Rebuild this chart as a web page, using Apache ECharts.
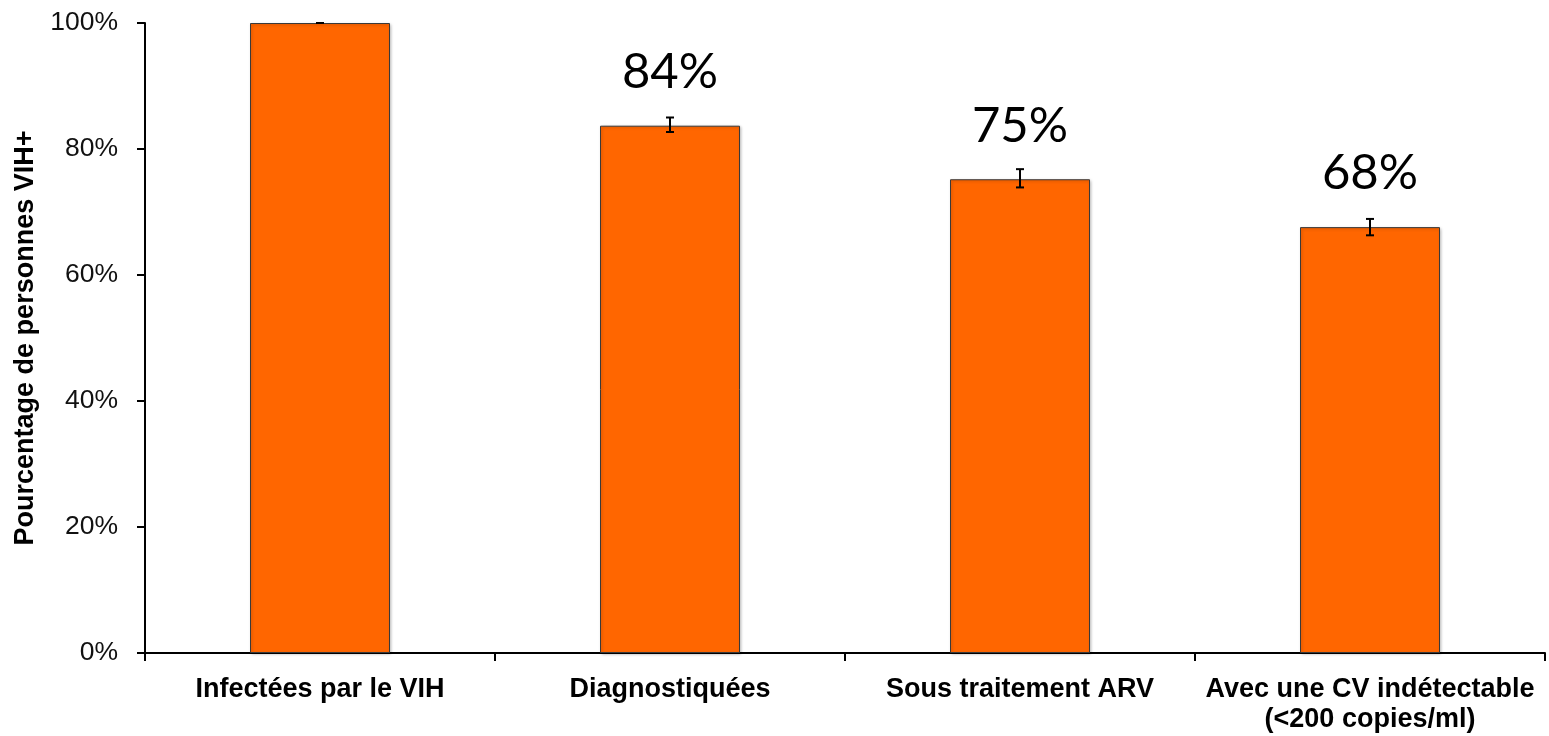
<!DOCTYPE html>
<html><head><meta charset="utf-8">
<script src="https://cdn.jsdelivr.net/npm/echarts@6/dist/echarts.min.js"></script>
<style>html,body{margin:0;padding:0;background:#fff}#c{width:1549px;height:736px}</style>
</head><body><div id="c"></div>
<script>
var categories = ['Infectées par le VIH', 'Diagnostiquées', 'Sous traitement ARV', 'Avec une CV indétectable\n(<200 copies/ml)'];
var values = [100, 83.7, 75.2, 67.6];
var errLow = [100, 82.7, 73.9, 66.3];
var errHigh = [100, 85.0, 76.8, 68.9];
var barLabels = ['', '84%', '75%', '68%'];
var yTicks = [0, 20, 40, 60, 80, 100];

var chart = echarts.init(document.getElementById('c'));
chart.setOption({
  animation: false,
  grid: {left: 145, right: 4, top: 23, bottom: 83},
  xAxis: {
    type: 'category', data: categories,
    axisLine: {lineStyle: {color: '#000', width: 2}},
    axisTick: {show: true, interval: 0, length: 8, lineStyle: {color: '#000', width: 2}},
    axisLabel: {interval: 0, hideOverlap: false, fontFamily: 'Liberation Sans', fontWeight: 'bold', fontSize: 27, color: '#000', margin: 22, lineHeight: 30}
  },
  yAxis: {
    type: 'value', min: 0, max: 100, interval: 20,
    name: 'Pourcentage de personnes VIH+', nameLocation: 'middle', nameGap: 100,
    nameTextStyle: {fontFamily: 'Liberation Sans', fontWeight: 'bold', fontSize: 27, color: '#000'},
    axisLine: {show: true, lineStyle: {color: '#000', width: 2}},
    axisTick: {show: true, length: 8, lineStyle: {color: '#000', width: 2}},
    splitLine: {show: false},
    axisLabel: {fontFamily: 'Liberation Sans', fontSize: 26.5, color: '#111', margin: 27,
      formatter: function (v) { return yTicks.indexOf(v) >= 0 ? v + '%' : ''; }}
  },
  series: [{
    type: 'bar', data: values, barWidth: '40%',
    itemStyle: {color: '#FF6600', borderColor: '#3a3a3a', borderWidth: 1,
      shadowColor: 'rgba(0,0,0,0.25)', shadowBlur: 3, shadowOffsetX: 1, shadowOffsetY: 1},
    label: {show: true, position: 'top', distance: 29, fontFamily: 'Lato', fontSize: 49, color: '#000',
      formatter: function (p) { return barLabels[p.dataIndex]; }}
  }, {
    type: 'custom',
    data: categories.map(function (c, i) { return [i, errLow[i], errHigh[i]]; }),
    z: 10,
    renderItem: function (params, api) {
      var lo = api.coord([api.value(0), api.value(1)]);
      var hi = api.coord([api.value(0), api.value(2)]);
      var w = 4;
      var st = {stroke: '#000', lineWidth: 2};
      return {type: 'group', children: [
        {type: 'line', shape: {x1: hi[0], y1: hi[1], x2: lo[0], y2: lo[1]}, style: st},
        {type: 'line', shape: {x1: hi[0] - w, y1: hi[1], x2: hi[0] + w, y2: hi[1]}, style: st},
        {type: 'line', shape: {x1: lo[0] - w, y1: lo[1], x2: lo[0] + w, y2: lo[1]}, style: st}
      ]};
    }
  }]
});
</script></body></html>
